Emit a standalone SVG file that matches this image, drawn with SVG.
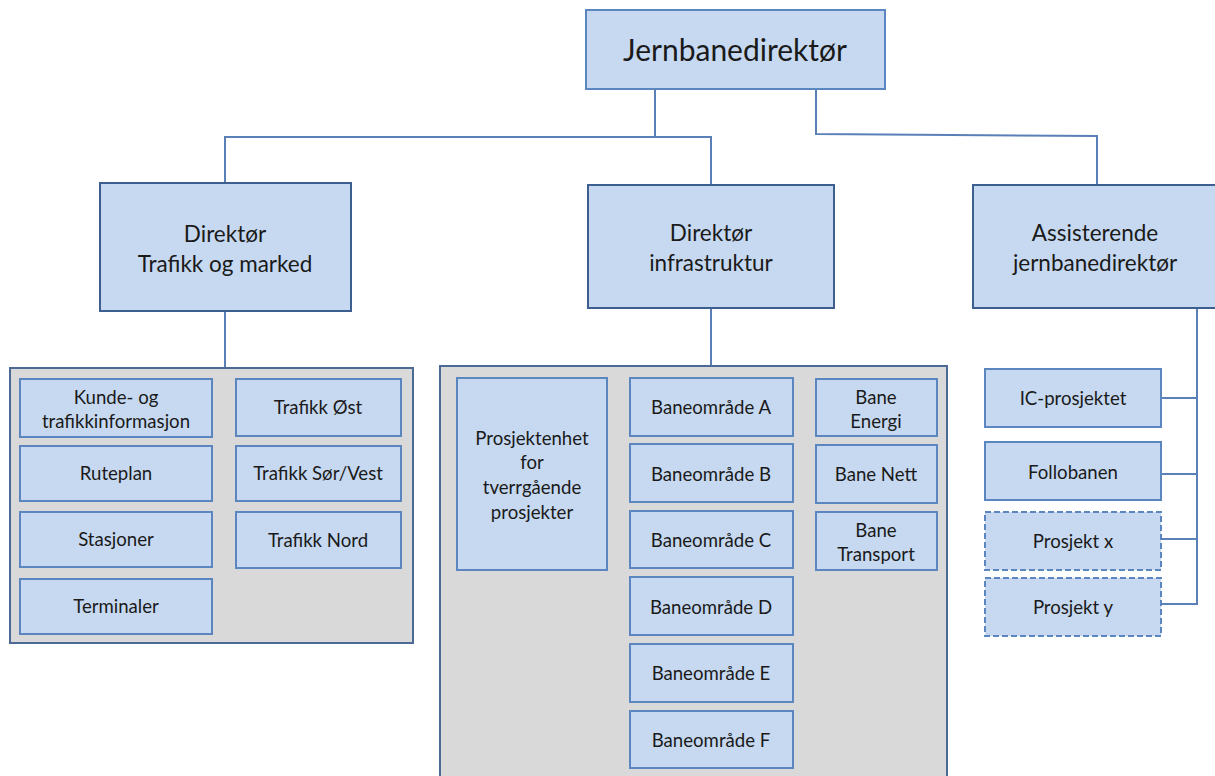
<svg xmlns="http://www.w3.org/2000/svg" width="1215" height="776" viewBox="0 0 1215 776">
<style>
.b{fill:#c6d9f1;stroke:#5b86c0;stroke-width:2}
.l2{fill:#c6d9f1;stroke:#3c5f8f;stroke-width:2}
.c{fill:#d9d9d9;stroke:#4d6a94;stroke-width:2}
.d{fill:#c6d9f1;stroke:#5b86c0;stroke-width:2;stroke-dasharray:6 3}
.t{font-family:Lato,"Open Sans",sans-serif;fill:#1a1a1a;text-anchor:middle;font-size:18.6px}
.t2{font-family:Lato,"Open Sans",sans-serif;fill:#1a1a1a;text-anchor:middle;font-size:22.5px}
.ln{fill:none;stroke:#5b80b8;stroke-width:2}
</style>
<g id="connectors">
<polyline class="ln" points="655,89 655,137"/>
<polyline class="ln" points="225,183 225,137 711,137 711,185"/>
<polyline class="ln" points="816,89 816,134 1097,136 1097,185"/>
<line class="ln" x1="225" y1="311" x2="225" y2="368"/>
<line class="ln" x1="711" y1="308" x2="711" y2="366"/>
<line class="ln" x1="1197" y1="308" x2="1197" y2="605"/>
<line class="ln" x1="1161" y1="398" x2="1197" y2="398"/>
<line class="ln" x1="1161" y1="474" x2="1197" y2="474"/>
<line class="ln" x1="1161" y1="539" x2="1197" y2="539"/>
<line class="ln" x1="1161" y1="604" x2="1197" y2="604"/>
</g>
<g id="jernbanedirektor"><rect class="b" x="586" y="10" width="299" height="79"/><text class="t" style="font-size:30px" x="735" y="61">Jernbanedirektør</text></g>
<g id="dir-trafikk"><rect class="l2" x="100" y="183" width="251" height="128"/><text class="t2" x="225" y="242">Direktør</text><text class="t2" x="225" y="272">Trafikk og marked</text></g>
<g id="dir-infra"><rect class="l2" x="588" y="185" width="246" height="123"/><text class="t2" x="711" y="241">Direktør</text><text class="t2" x="711" y="271">infrastruktur</text></g>
<g id="ass-dir"><rect class="l2" x="973" y="185" width="250" height="123"/><text class="t2" x="1095" y="241">Assisterende</text><text class="t2" x="1095" y="271">jernbanedirektør</text></g>

<g id="group-trafikk"><rect class="c" x="10" y="368" width="403" height="275"/></g>
<g id="kunde"><rect class="b" x="20" y="379" width="192" height="58"/><text class="t" x="116" y="404">Kunde- og</text><text class="t" x="116" y="428">trafikkinformasjon</text></g>
<g id="ruteplan"><rect class="b" x="20" y="446" width="192" height="55"/><text class="t" x="116" y="480">Ruteplan</text></g>
<g id="stasjoner"><rect class="b" x="20" y="512" width="192" height="55"/><text class="t" x="116" y="546">Stasjoner</text></g>
<g id="terminaler"><rect class="b" x="20" y="579" width="192" height="55"/><text class="t" x="116" y="613">Terminaler</text></g>
<g id="trafikk-ost"><rect class="b" x="236" y="379" width="165" height="57"/><text class="t" x="318" y="414">Trafikk Øst</text></g>
<g id="trafikk-sorvest"><rect class="b" x="236" y="446" width="165" height="55"/><text class="t" x="318" y="480">Trafikk Sør/Vest</text></g>
<g id="trafikk-nord"><rect class="b" x="236" y="512" width="165" height="56"/><text class="t" x="318" y="547">Trafikk Nord</text></g>

<g id="group-infra"><rect class="c" x="440" y="366" width="507" height="420"/></g>
<g id="prosjektenhet"><rect class="b" x="457" y="378" width="150" height="192"/><text class="t" x="532" y="445">Prosjektenhet</text><text class="t" x="532" y="469">for</text><text class="t" x="532" y="494">tverrgående</text><text class="t" x="532" y="519">prosjekter</text></g>
<g id="bo-a"><rect class="b" x="630" y="378" width="163" height="58"/><text class="t" x="711" y="414">Baneområde A</text></g>
<g id="bo-b"><rect class="b" x="630" y="444" width="163" height="58"/><text class="t" x="711" y="481">Baneområde B</text></g>
<g id="bo-c"><rect class="b" x="630" y="511" width="163" height="57"/><text class="t" x="711" y="547">Baneområde C</text></g>
<g id="bo-d"><rect class="b" x="630" y="577" width="163" height="58"/><text class="t" x="711" y="614">Baneområde D</text></g>
<g id="bo-e"><rect class="b" x="630" y="644" width="163" height="58"/><text class="t" x="711" y="680">Baneområde E</text></g>
<g id="bo-f"><rect class="b" x="630" y="711" width="163" height="57"/><text class="t" x="711" y="747">Baneområde F</text></g>
<g id="bane-energi"><rect class="b" x="816" y="379" width="121" height="57"/><text class="t" x="876" y="404">Bane</text><text class="t" x="876" y="428">Energi</text></g>
<g id="bane-nett"><rect class="b" x="816" y="445" width="121" height="58"/><text class="t" x="876" y="481">Bane Nett</text></g>
<g id="bane-transport"><rect class="b" x="816" y="512" width="121" height="58"/><text class="t" x="876" y="537">Bane</text><text class="t" x="876" y="561">Transport</text></g>

<g id="ic"><rect class="b" x="985" y="369" width="176" height="58"/><text class="t" x="1073" y="405">IC-prosjektet</text></g>
<g id="follobanen"><rect class="b" x="985" y="442" width="176" height="58"/><text class="t" x="1073" y="479">Follobanen</text></g>
<g id="prosjekt-x"><rect class="d" x="985" y="512" width="176" height="58"/><text class="t" x="1073" y="548">Prosjekt x</text></g>
<g id="prosjekt-y"><rect class="d" x="985" y="578" width="176" height="58"/><text class="t" x="1073" y="614">Prosjekt y</text></g>
</svg>
